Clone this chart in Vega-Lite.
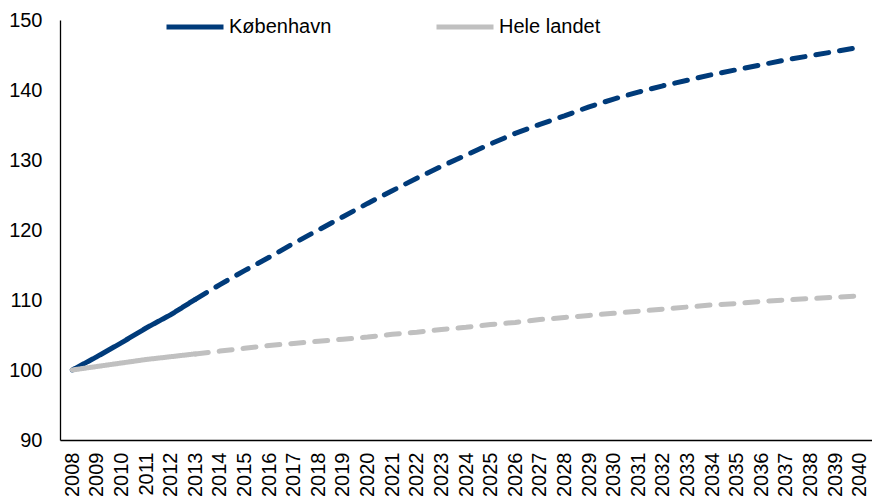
{
  "$schema": "https://vega.github.io/schema/vega-lite/v6.json",
  "autosize": {"type": "none"},
  "padding": {"left": 60, "top": 20, "right": 0, "bottom": 62},
  "width": 812,
  "height": 420,
  "background": "white",
  "config": {
    "view": {"stroke": null},
    "font": "Liberation Sans",
    "axis": {"grid": false, "ticks": false, "domainColor": "#000000", "domainWidth": 1.3, "labelColor": "#000000", "labelFont": "Liberation Sans", "labelFontSize": 20, "title": null}
  },
  "datasets": {
    "rows": [
      {"year": "2008", "series": "København", "segment": "historisk", "value": 100},
      {"year": "2009", "series": "København", "segment": "historisk", "value": 101.9},
      {"year": "2010", "series": "København", "segment": "historisk", "value": 103.9},
      {"year": "2011", "series": "København", "segment": "historisk", "value": 106.0},
      {"year": "2012", "series": "København", "segment": "historisk", "value": 107.9},
      {"year": "2013", "series": "København", "segment": "historisk", "value": 110.1},
      {"year": "2013", "series": "København", "segment": "fremskrivning", "value": 110.1},
      {"year": "2014", "series": "København", "segment": "fremskrivning", "value": 112.2},
      {"year": "2015", "series": "København", "segment": "fremskrivning", "value": 114.2},
      {"year": "2016", "series": "København", "segment": "fremskrivning", "value": 116.1},
      {"year": "2017", "series": "København", "segment": "fremskrivning", "value": 118.1},
      {"year": "2018", "series": "København", "segment": "fremskrivning", "value": 120.0},
      {"year": "2019", "series": "København", "segment": "fremskrivning", "value": 121.9},
      {"year": "2020", "series": "København", "segment": "fremskrivning", "value": 123.8},
      {"year": "2021", "series": "København", "segment": "fremskrivning", "value": 125.6},
      {"year": "2022", "series": "København", "segment": "fremskrivning", "value": 127.4},
      {"year": "2023", "series": "København", "segment": "fremskrivning", "value": 129.1},
      {"year": "2024", "series": "København", "segment": "fremskrivning", "value": 130.7},
      {"year": "2025", "series": "København", "segment": "fremskrivning", "value": 132.3},
      {"year": "2026", "series": "København", "segment": "fremskrivning", "value": 133.8},
      {"year": "2027", "series": "København", "segment": "fremskrivning", "value": 135.1},
      {"year": "2028", "series": "København", "segment": "fremskrivning", "value": 136.3},
      {"year": "2029", "series": "København", "segment": "fremskrivning", "value": 137.6},
      {"year": "2030", "series": "København", "segment": "fremskrivning", "value": 138.7},
      {"year": "2031", "series": "København", "segment": "fremskrivning", "value": 139.7},
      {"year": "2032", "series": "København", "segment": "fremskrivning", "value": 140.6},
      {"year": "2033", "series": "København", "segment": "fremskrivning", "value": 141.4},
      {"year": "2034", "series": "København", "segment": "fremskrivning", "value": 142.2},
      {"year": "2035", "series": "København", "segment": "fremskrivning", "value": 142.9},
      {"year": "2036", "series": "København", "segment": "fremskrivning", "value": 143.6},
      {"year": "2037", "series": "København", "segment": "fremskrivning", "value": 144.3},
      {"year": "2038", "series": "København", "segment": "fremskrivning", "value": 144.9},
      {"year": "2039", "series": "København", "segment": "fremskrivning", "value": 145.5},
      {"year": "2040", "series": "København", "segment": "fremskrivning", "value": 146.1},
      {"year": "2008", "series": "Hele landet", "segment": "historisk", "value": 100},
      {"year": "2009", "series": "Hele landet", "segment": "historisk", "value": 100.5},
      {"year": "2010", "series": "Hele landet", "segment": "historisk", "value": 101.0},
      {"year": "2011", "series": "Hele landet", "segment": "historisk", "value": 101.5},
      {"year": "2012", "series": "Hele landet", "segment": "historisk", "value": 101.9},
      {"year": "2013", "series": "Hele landet", "segment": "historisk", "value": 102.3},
      {"year": "2013", "series": "Hele landet", "segment": "fremskrivning", "value": 102.3},
      {"year": "2014", "series": "Hele landet", "segment": "fremskrivning", "value": 102.7},
      {"year": "2015", "series": "Hele landet", "segment": "fremskrivning", "value": 103.1},
      {"year": "2016", "series": "Hele landet", "segment": "fremskrivning", "value": 103.5},
      {"year": "2017", "series": "Hele landet", "segment": "fremskrivning", "value": 103.8},
      {"year": "2018", "series": "Hele landet", "segment": "fremskrivning", "value": 104.1},
      {"year": "2019", "series": "Hele landet", "segment": "fremskrivning", "value": 104.4},
      {"year": "2020", "series": "Hele landet", "segment": "fremskrivning", "value": 104.7},
      {"year": "2021", "series": "Hele landet", "segment": "fremskrivning", "value": 105.1},
      {"year": "2022", "series": "Hele landet", "segment": "fremskrivning", "value": 105.4},
      {"year": "2023", "series": "Hele landet", "segment": "fremskrivning", "value": 105.8},
      {"year": "2024", "series": "Hele landet", "segment": "fremskrivning", "value": 106.1},
      {"year": "2025", "series": "Hele landet", "segment": "fremskrivning", "value": 106.5},
      {"year": "2026", "series": "Hele landet", "segment": "fremskrivning", "value": 106.8},
      {"year": "2027", "series": "Hele landet", "segment": "fremskrivning", "value": 107.2},
      {"year": "2028", "series": "Hele landet", "segment": "fremskrivning", "value": 107.5},
      {"year": "2029", "series": "Hele landet", "segment": "fremskrivning", "value": 107.8},
      {"year": "2030", "series": "Hele landet", "segment": "fremskrivning", "value": 108.1},
      {"year": "2031", "series": "Hele landet", "segment": "fremskrivning", "value": 108.4},
      {"year": "2032", "series": "Hele landet", "segment": "fremskrivning", "value": 108.7},
      {"year": "2033", "series": "Hele landet", "segment": "fremskrivning", "value": 109.0},
      {"year": "2034", "series": "Hele landet", "segment": "fremskrivning", "value": 109.3},
      {"year": "2035", "series": "Hele landet", "segment": "fremskrivning", "value": 109.5},
      {"year": "2036", "series": "Hele landet", "segment": "fremskrivning", "value": 109.8},
      {"year": "2037", "series": "Hele landet", "segment": "fremskrivning", "value": 110.0},
      {"year": "2038", "series": "Hele landet", "segment": "fremskrivning", "value": 110.2},
      {"year": "2039", "series": "Hele landet", "segment": "fremskrivning", "value": 110.4},
      {"year": "2040", "series": "Hele landet", "segment": "fremskrivning", "value": 110.6}
    ]
  },
  "data": {"name": "rows"},
  "encoding": {
    "x": {
      "field": "year", "type": "ordinal",
      "scale": {"type": "point", "padding": 0.5},
      "axis": {"labelAngle": -90, "labelPadding": 12}
    },
    "y": {
      "field": "value", "type": "quantitative",
      "scale": {"domain": [90, 150], "nice": false, "zero": false},
      "axis": {"values": [90, 100, 110, 120, 130, 140, 150], "labelPadding": 18}
    },
    "color": {
      "field": "series", "type": "nominal",
      "scale": {"domain": ["København", "Hele landet"], "range": ["#003B7A", "#C0C0C0"]},
      "legend": {
        "title": null, "orient": "none", "direction": "horizontal",
        "legendX": 104, "legendY": -24,
        "symbolType": "stroke", "symbolSize": 3249, "symbolStrokeWidth": 5,
        "labelFontSize": 20, "labelFont": "Liberation Sans", "labelColor": "#000000",
        "labelOffset": 3, "columnPadding": 94
      }
    },
    "strokeDash": {
      "field": "segment", "type": "nominal",
      "scale": {"domain": ["historisk", "fremskrivning"], "range": [[1, 0], [13, 11]]},
      "legend": null
    }
  },
  "layer": [
    {
      "transform": [{"filter": "datum.series === 'København'"}],
      "mark": {"type": "line", "strokeWidth": 5, "strokeCap": "round", "strokeJoin": "round"}
    },
    {
      "transform": [{"filter": "datum.series === 'Hele landet'"}],
      "mark": {"type": "line", "strokeWidth": 5, "strokeCap": "round", "strokeJoin": "round"}
    }
  ]
}
